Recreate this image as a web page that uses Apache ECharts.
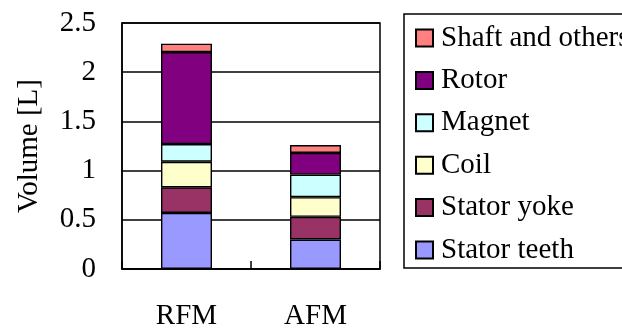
<!DOCTYPE html>
<html>
<head>
<meta charset="utf-8">
<script src="https://cdn.jsdelivr.net/npm/echarts@6/dist/echarts.min.js"></script>
<style>
  html, body { margin: 0; padding: 0; background: #fff; }
  #chart { width: 622px; height: 331px; }
</style>
</head>
<body>
<div id="chart"></div>
<script>
// Motor types compared
const categories = ['RFM', 'AFM'];

// Component volumes [L], stacked bottom to top
const statorTeeth = [0.57, 0.30];
const statorYoke  = [0.26, 0.23];
const coil        = [0.26, 0.20];
const magnet      = [0.18, 0.23];
const rotor       = [0.935, 0.22];
const shaftOthers = [0.085, 0.08];

const yTicks = [0, 0.5, 1, 1.5, 2, 2.5];

const FONT = '"Liberation Serif", "DejaVu Serif", serif';
const FS = 29;

const parts = [
  { name: 'Stator teeth',     data: statorTeeth, color: '#9999FF' },
  { name: 'Stator yoke',      data: statorYoke,  color: '#993366' },
  { name: 'Coil',             data: coil,        color: '#FFFFCC' },
  { name: 'Magnet',           data: magnet,      color: '#CCFFFF' },
  { name: 'Rotor',            data: rotor,       color: '#800080' },
  { name: 'Shaft and others', data: shaftOthers, color: '#FF8080' }
];

const chart = echarts.init(document.getElementById('chart'), null, { renderer: 'canvas' });

chart.setOption({
  animation: false,
  backgroundColor: '#fff',
  textStyle: { fontFamily: FONT, color: '#000' },
  grid: {
    left: 122, top: 23, width: 258, height: 247,
    show: true, borderColor: '#000', borderWidth: 1.5, backgroundColor: 'transparent'
  },
  legend: {
    orient: 'vertical',
    left: 404, top: 14,
    padding: [9, 12, 3, 11],
    borderColor: '#000', borderWidth: 1.5,
    itemWidth: 17, itemHeight: 17, itemGap: 12.4,
    icon: 'rect',
    data: parts.map(p => p.name).reverse(),
    textStyle: { fontFamily: FONT, fontSize: FS, color: '#000', lineHeight: 30, padding: [0, 0, 0, 3] }
  },
  xAxis: {
    type: 'category',
    data: categories,
    axisLine: { lineStyle: { color: '#000', width: 1.5 } },
    axisTick: { show: true, inside: true, length: 8, lineStyle: { color: '#000', width: 1.5 } },
    axisLabel: { fontFamily: FONT, fontSize: FS, color: '#000', margin: 33 }
  },
  yAxis: {
    type: 'value',
    min: yTicks[0], max: yTicks[yTicks.length - 1], interval: 0.5,
    name: 'Volume [L]',
    nameLocation: 'middle',
    nameGap: 78,
    nameTextStyle: { fontFamily: FONT, fontSize: FS, color: '#000' },
    axisLine: { show: true, lineStyle: { color: '#000', width: 1.5 } },
    axisTick: { show: false },
    splitLine: { show: true, lineStyle: { color: '#000', width: 1.5 } },
    axisLabel: {
      fontFamily: FONT, fontSize: FS, color: '#000', margin: 26,
      formatter: v => String(v)
    }
  },
  series: parts.map(p => ({
    name: p.name,
    type: 'bar',
    stack: 'volume',
    data: p.data,
    barWidth: 51,
    itemStyle: { color: p.color, borderColor: '#000', borderWidth: 1.4 }
  }))
});
</script>
</body>
</html>
